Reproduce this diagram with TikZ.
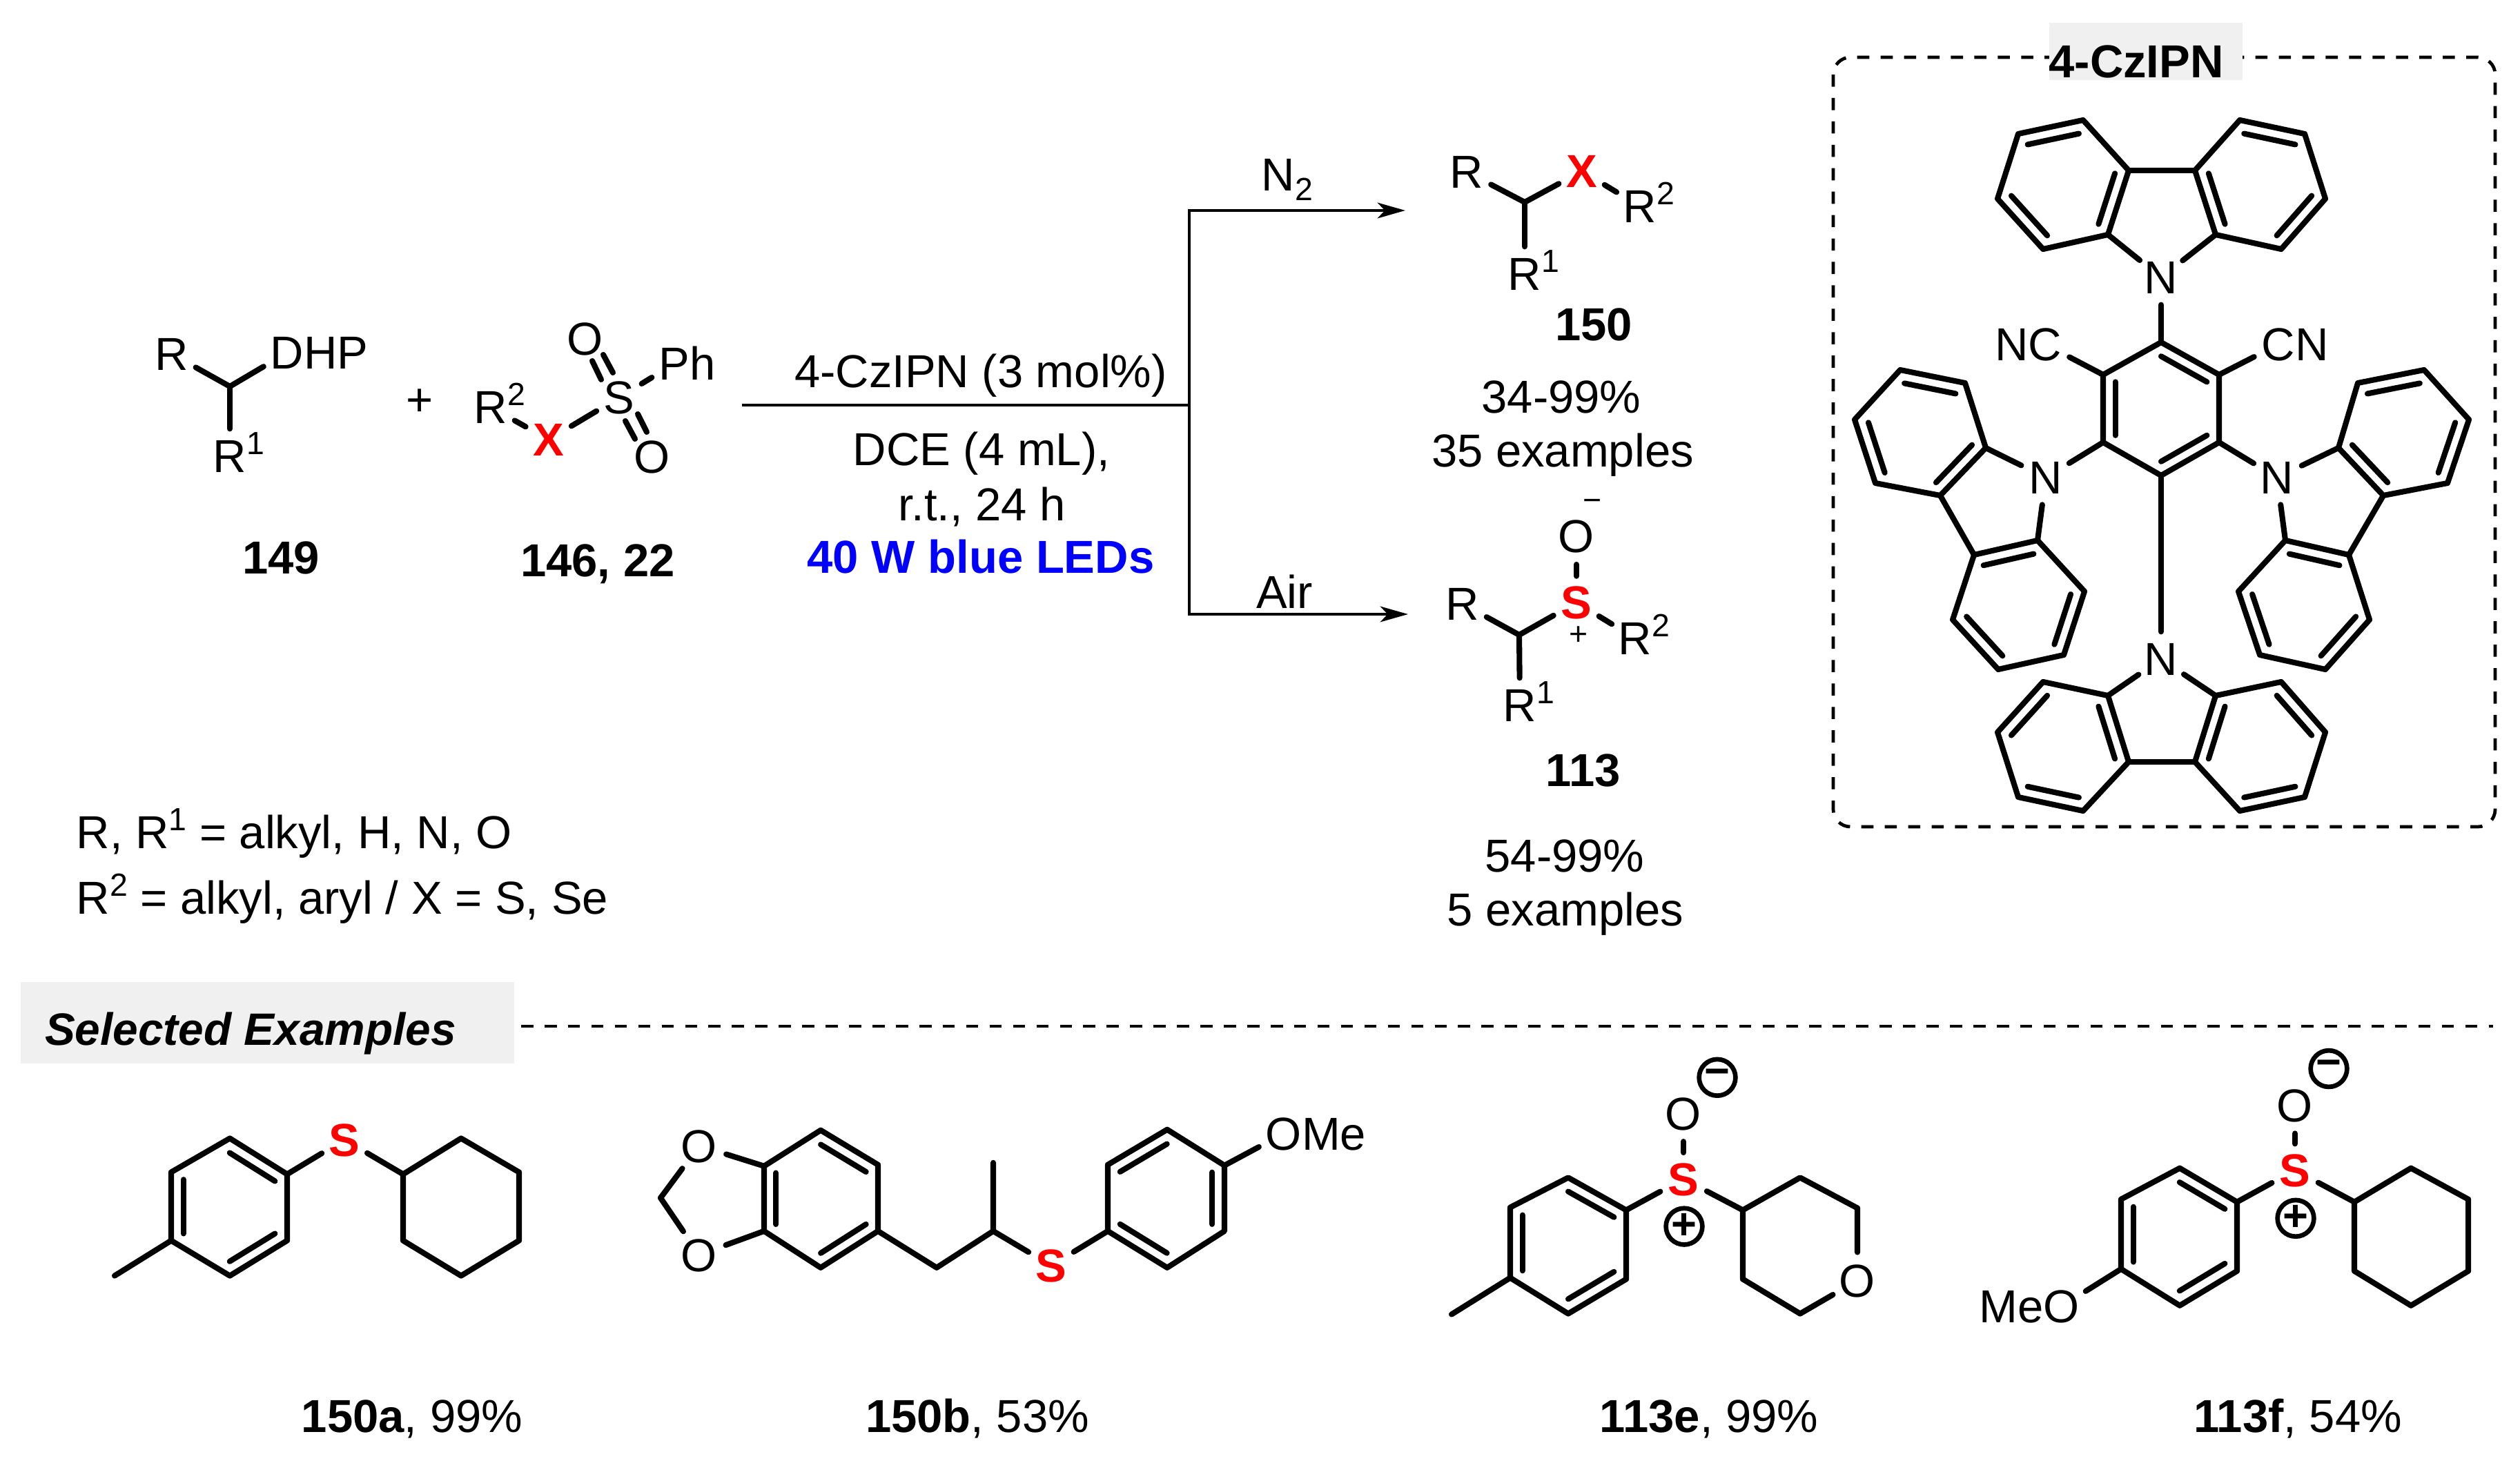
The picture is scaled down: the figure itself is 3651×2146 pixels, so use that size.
\documentclass[tikz,border=0pt]{standalone}
\usepackage{fontspec}
\setmainfont{Liberation Sans}
\usetikzlibrary{arrows.meta,calc}

\newcommand{\basefont}{\fontsize{19.05}{22.8}\selectfont}
\newcommand{\smallfont}{\fontsize{13.2}{16}\selectfont}
\newcommand{\supnum}[1]{\raisebox{7.6pt}{\smallfont #1}}
\newcommand{\subnum}[1]{\raisebox{-4pt}{\smallfont #1}}

\tikzset{
  bond/.style={line width=2.3pt, line join=round, line cap=round},
  rxn/.style={line width=1.4pt},
  tip/.tip={Stealth[length=11.4pt,width=6.4pt,inset=3pt]},
  dashline/.style={line width=1.35pt, dash pattern=on 5pt off 4.65pt},
  atom/.style={circle, inner sep=1pt, font=\basefont, text height=13.6pt, text depth=0pt},
  hetero/.style={atom, font=\basefont\bfseries, text=red},
  txt/.style={inner sep=0pt, font=\basefont, text height=13.6pt, text depth=0pt},
  charge/.style={inner sep=0pt, font=\smallfont},
  ringcharge/.style={circle, draw, line width=1.9pt, inner sep=0pt, minimum size=15pt, font=\fontsize{18}{18}\selectfont\bfseries},
  graybox/.style={fill=black!6, inner sep=0pt}
}

\newcommand{\hexring}[2]{
  \foreach \x/\y [count=\i] in {#2} \coordinate (#1\i) at (\x,\y);
  \coordinate (#1c) at ($(#11)!.5!(#14)$);
  \draw[bond] (#11) -- (#12) -- (#13) -- (#14) -- (#15) -- (#16) -- cycle;
}
\newcommand{\dblbond}[3]{
  \draw[bond] ($(#1#2)!.21!(#1c)$) -- ($(#1#3)!.21!(#1c)$);
}

\begin{document}
\begin{tikzpicture}[x=0.01cm,y=-0.01cm]
\path[use as bounding box] (0,0) rectangle (3651,2146);

% 149
\node[atom] (R149) at (249,513) {R};
\node[atom] (D149) at (416,511) {D\rlap{HP}};
\node[atom] (Ra149) at (333,661) {R\rlap{\supnum{1}}};
\coordinate (C149) at (333,560);
\draw[bond] (R149) -- (C149);
\draw[bond] (D149) -- (C149);
\draw[bond] (Ra149) -- (C149);
\node[txt] (L149) at (407,808) {\textbf{149}};
\node[inner sep=0pt, font=\basefont] (plus) at (608,583) {+};

% 146, 22
\node[atom] (Rb146) at (711,590) {R\rlap{\supnum{2}}};
\node[hetero] (X146) at (795,637) {X};
\node[atom] (S146) at (897,576) {S};
\node[atom] (Oa146) at (848,491) {O};
\node[atom] (Ob146) at (945,662) {O};
\node[atom] (P146) at (977,527) {P\rlap{h}};
\coordinate (ua1) at (871,550);
\coordinate (ua2) at (858,523);
\coordinate (ub1) at (888,540);
\coordinate (ub2) at (874,514);
\coordinate (da1) at (906,610);
\coordinate (da2) at (920,636);
\coordinate (db1) at (924,600);
\coordinate (db2) at (937,626);
\draw[bond] (Rb146) -- (X146);
\draw[bond] (X146) -- (S146);
\draw[bond] (S146) -- (P146);
\draw[bond] (ua1) -- (ua2);
\draw[bond] (ub1) -- (ub2);
\draw[bond] (da1) -- (da2);
\draw[bond] (db1) -- (db2);
\node[txt] (L146) at (866,812) {\textbf{146, 22}};

% conditions
\coordinate (rs) at (1075,587);
\coordinate (rv) at (1723,587);
\coordinate (ta) at (2036,305);
\coordinate (tb) at (1723,305);
\coordinate (ua) at (2040,890);
\coordinate (ub) at (1723,890);
\draw[rxn] (rs) -- (rv);
\draw[rxn,{tip}-{tip}] (ta) -- (tb) -- (ub) -- (ua);
\node[txt] (c1) at (1421,538) {4-CzIPN (3 mol\%)};
\node[txt] (c2) at (1422,651) {DCE (4 mL),};
\node[txt] (c3) at (1423,731) {r.t., 24 h};
\node[txt, text=blue] (c4) at (1421,807) {\textbf{40 W blue LEDs}};
\node[txt] (n2) at (1852,253) {N\rlap{\subnum{2}}};
\node[txt] (air) at (1861,858) {Air};

% 150
\node[atom] (R150) at (2125,249) {R};
\node[hetero] (X150) at (2292,248) {X};
\node[atom] (Rb150) at (2376,299) {R\rlap{\supnum{2}}};
\node[atom] (Ra150) at (2209,397) {R\rlap{\supnum{1}}};
\coordinate (C150) at (2209,293);
\draw[bond] (R150) -- (C150);
\draw[bond] (X150) -- (C150);
\draw[bond] (X150) -- (Rb150);
\draw[bond] (Ra150) -- (C150);
\node[txt] (L150) at (2309,470) {\textbf{150}};
\node[txt] (y150) at (2262,575) {34-99\%};
\node[txt] (e150) at (2264,653) {35 examples};

% 113
\node[atom] (R113) at (2119,875) {R};
\node[hetero] (S113) at (2284,873) {S};
\node[atom] (O113) at (2284,777) {O};
\node[atom] (Rb113) at (2369,925) {R\rlap{\supnum{2}}};
\node[atom] (Ra113) at (2202,1022) {R\rlap{\supnum{1}}};
\node[charge] (m113) at (2307,732) {−};
\node[charge] (p113) at (2287,921) {+};
\coordinate (C113) at (2201,920);
\draw[bond] (R113) -- (C113);
\draw[bond] (S113) -- (C113);
\draw[bond] (S113) -- (O113);
\draw[bond] (S113) -- (Rb113);
\draw[bond] (Ra113) -- (C113);
\node[txt] (L113) at (2294,1116) {\textbf{113}};
\node[txt] (y113) at (2267,1240) {54-99\%};
\node[txt] (e113) at (2268,1318) {5 examples};

\node[txt, anchor=west] (note1) at (110,1206) {R, R\supnum{1} = alkyl, H, N, O};
\node[txt, anchor=west] (note2) at (110,1301) {R\supnum{2} = alkyl, aryl / X = S, Se};

% 4-CzIPN
\draw[dashline, rounded corners=0.25cm] (2656,83) rectangle (3615,1198);
\node[graybox, minimum width=2.8cm, minimum height=0.83cm] (czbox) at (3109,74.5) {};
\node[txt] (czname) at (3095,89) {\textbf{4-CzIPN}};

\hexring{z}{3131/496,3215/543,3215/641,3131/689,3047/641,3047/543}
\dblbond{z}{1}{2}
\dblbond{z}{3}{4}
\dblbond{z}{5}{6}
\node[atom] (NC) at (2963,499) {\llap{N}C};
\node[atom] (CN) at (3301,499) {C\rlap{N}};
\draw[bond] (NC) -- (z6);
\draw[bond] (CN) -- (z2);

\node[atom] (N1) at (3131,402) {N};
\hexring{a}{3084/247,3018/174,2924/194,2894/288,2960/361,3054/340}
\hexring{b}{3180/247,3245/174,3339/194,3369/288,3305/361,3210/340}
\foreach \r in {a,b} {
  \dblbond{\r}{6}{1}
  \dblbond{\r}{2}{3}
  \dblbond{\r}{4}{5}
}
\draw[bond] (a1) -- (b1);
\draw[bond] (N1) -- (a6);
\draw[bond] (N1) -- (b6);
\draw[bond] (N1) -- (z1);

\node[atom] (N2) at (3131,955) {N};
\hexring{c}{3084/1104,3018/1175,2924/1155,2894/1061,2960/988,3054/1008}
\hexring{d}{3180/1104,3245/1175,3339/1155,3369/1061,3305/988,3210/1008}
\foreach \r in {c,d} {
  \dblbond{\r}{6}{1}
  \dblbond{\r}{2}{3}
  \dblbond{\r}{4}{5}
}
\draw[bond] (c1) -- (d1);
\draw[bond] (N2) -- (c6);
\draw[bond] (N2) -- (d6);
\draw[bond] (N2) -- (z4);

\node[atom] (N3) at (2964,692) {N};
\hexring{e}{2877/649,2847/555,2753/536,2687/608,2717/700,2811/718}
\hexring{f}{2860/804,2952/783,3020/857,2990/949,2895/970,2829/898}
\dblbond{e}{1}{6}
\dblbond{e}{2}{3}
\dblbond{e}{4}{5}
\dblbond{f}{1}{2}
\dblbond{f}{3}{4}
\dblbond{f}{5}{6}
\draw[bond] (e6) -- (f1);
\draw[bond] (N3) -- (e1);
\draw[bond] (N3) -- (f2);
\draw[bond] (N3) -- (z5);

\node[atom] (N4) at (3299,692) {N};
\hexring{g}{3388/649,3416/555,3512/536,3577/608,3546/700,3453/718}
\hexring{h}{3403/804,3311/783,3243/857,3274/949,3369/970,3433/898}
\dblbond{g}{1}{6}
\dblbond{g}{2}{3}
\dblbond{g}{4}{5}
\dblbond{h}{1}{2}
\dblbond{h}{3}{4}
\dblbond{h}{5}{6}
\draw[bond] (g6) -- (h1);
\draw[bond] (N4) -- (g1);
\draw[bond] (N4) -- (h2);
\draw[bond] (N4) -- (z3);

% selected examples
\node[graybox, minimum width=7.15cm, minimum height=1.18cm] (selbox) at (387.5,1482) {};
\node[txt, font=\fontsize{18.7}{22}\selectfont] (selname) at (363,1491) {\textbf{\textit{Selected Examples}}};
\coordinate (sa) at (755,1487);
\coordinate (sb) at (3612,1487);
\draw[dashline] (sa) -- (sb);
\node[txt] (La) at (597,2052) {\textbf{150a}, 99\%};
\node[txt] (Lb) at (1416,2052) {\textbf{150b}, 53\%};
\node[txt] (Le) at (2476,2052) {\textbf{113e}, 99\%};
\node[txt] (Lf) at (3329,2052) {\textbf{113f}, 54\%};

\begin{scope}[shift={(0,27)},yscale=.981]
% 150a
\hexring{i}{416/1707,333/1654,248/1704,248/1805,333/1857,416/1805}
\hexring{j}{584/1707,668/1654,752/1704,752/1805,668/1857,584/1805}
\dblbond{i}{1}{2}
\dblbond{i}{3}{4}
\dblbond{i}{5}{6}
\node[hetero] (Sa) at (499,1656) {S};
\coordinate (Mea) at (166,1857);
\draw[bond] (i4) -- (Mea);
\draw[bond] (Sa) -- (i1);
\draw[bond] (Sa) -- (j1);

% 150b
\hexring{k}{1107/1695,1189/1642,1272/1693,1272/1791,1189/1845,1107/1791}
\hexring{l}{1605/1791,1605/1693,1691/1641,1774/1694,1774/1791,1691/1845}
\dblbond{k}{6}{1}
\dblbond{k}{2}{3}
\dblbond{k}{4}{5}
\dblbond{l}{2}{3}
\dblbond{l}{4}{5}
\dblbond{l}{6}{1}
\node[atom] (Oa) at (1013,1665) {O};
\node[atom] (Ob) at (1013,1826) {O};
\coordinate (CH) at (957,1742);
\draw[bond] (Oa) -- (k1);
\draw[bond] (Ob) -- (k6);
\draw[bond] (Oa) -- (CH);
\draw[bond] (Ob) -- (CH);
\coordinate (Cb1) at (1357,1845);
\coordinate (Cb2) at (1439,1791);
\coordinate (Cb3) at (1439,1690);
\node[hetero] (Sb) at (1523,1842) {S};
\draw[bond] (k4) -- (Cb1) -- (Cb2) -- (Cb3);
\draw[bond] (Cb2) -- (Sb);
\draw[bond] (Sb) -- (l1);
\node[atom] (OMe) at (1860,1647) {O\rlap{Me}};
\draw[bond] (OMe) -- (l4);

% 113e
\hexring{m}{2356/1760,2272/1712,2188/1756,2188/1860,2272/1913,2356/1862}
\dblbond{m}{1}{2}
\dblbond{m}{3}{4}
\dblbond{m}{5}{6}
\coordinate (Mee) at (2103,1914);
\draw[bond] (m4) -- (Mee);
\node[hetero] (Se) at (2439,1714) {S};
\node[atom] (Oe) at (2439,1617) {O};
\node[ringcharge] (pe) at (2440,1784) {+};
\node[ringcharge] (ne) at (2488,1564) {−};
\draw[bond] (Se) -- (Oe);
\draw[bond] (Se) -- (m1);
\node[atom] (Oc) at (2691,1864) {O};
\coordinate (q1) at (2525,1760);
\coordinate (q2) at (2608,1712);
\coordinate (q3) at (2691,1757);
\coordinate (q5) at (2608,1913);
\coordinate (q6) at (2525,1862);
\draw[bond] (Se) -- (q1);
\draw[bond] (Oc) -- (q3) -- (q2) -- (q1) -- (q6) -- (q5) -- (Oc);

% 113f
\hexring{o}{3241/1748,3158/1698,3073/1744,3073/1847,3158/1901,3241/1850}
\hexring{p}{3411/1748,3493/1698,3576/1744,3576/1850,3493/1901,3411/1850}
\dblbond{o}{1}{2}
\dblbond{o}{3}{4}
\dblbond{o}{5}{6}
\node[atom] (MeO) at (2987,1902) {\llap{Me}O};
\draw[bond] (MeO) -- (o4);
\node[hetero] (Sf) at (3325,1701) {S};
\node[atom] (Of) at (3325,1605) {O};
\node[ringcharge] (pf) at (3326,1772) {+};
\node[ringcharge] (nf) at (3374,1551) {−};
\draw[bond] (Sf) -- (Of);
\draw[bond] (Sf) -- (o1);
\draw[bond] (Sf) -- (p1);
\end{scope}
\end{tikzpicture}
\end{document}
